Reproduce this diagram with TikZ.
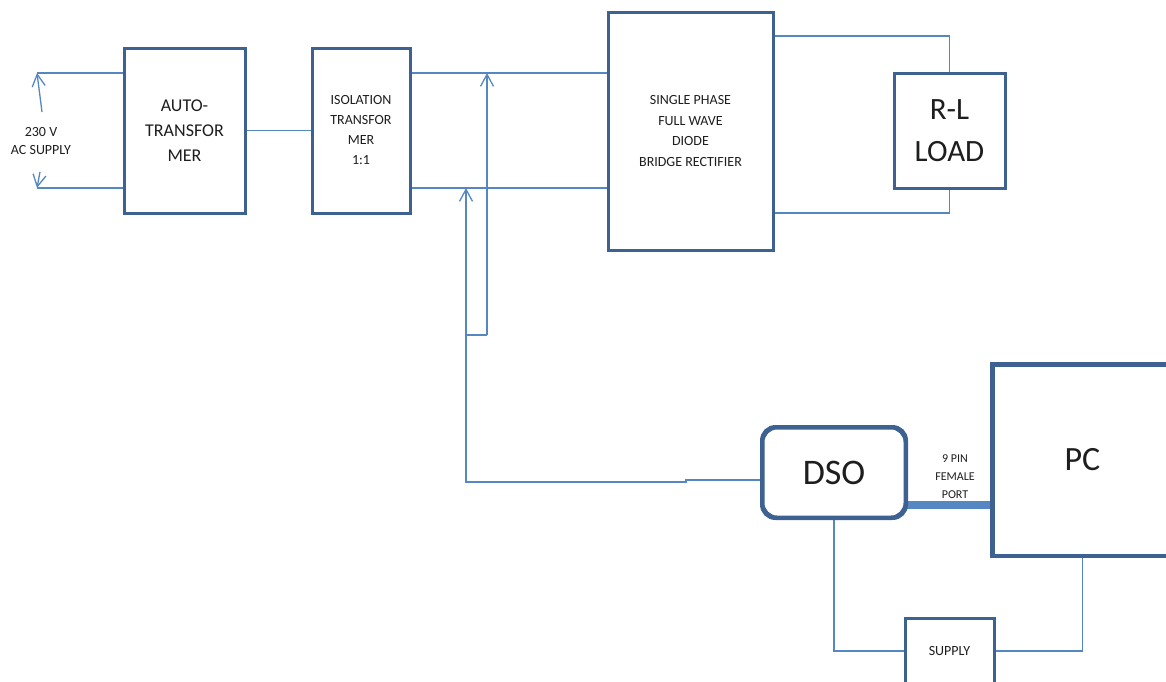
\documentclass[tikz,border=0pt]{standalone}
\usepackage{fontspec}
\setmainfont{Carlito}
\usetikzlibrary{arrows.meta}
\definecolor{boxc}{RGB}{61,98,145}
\definecolor{linec}{RGB}{85,135,195}
\definecolor{txtc}{RGB}{30,30,30}
\begin{document}
\begin{tikzpicture}[x=1pt,y=-1pt,
  blk/.style={draw=boxc, line width=3pt, fill=white, inner sep=0pt, align=center, text=txtc},
  wire/.style={draw=linec, line width=1.3pt},
  arr/.style={-{Straight Barb[length=12pt,width=13pt]}},
  lbl/.style={inner sep=0pt, align=center, text=txtc}]
\clip (0,0) rectangle (1166,681);
% blocks
\node[blk, minimum width=121pt, minimum height=165pt, font=\fontsize{18}{25}\selectfont] (auto) at (184.5,130.5) {AUTO-\\TRANSFOR\\MER};
\node[blk, minimum width=98pt, minimum height=165pt, font=\fontsize{14}{20}\selectfont] (iso) at (361,130.5) {ISOLATION\\TRANSFOR\\MER\\1:1};
\node[blk, minimum width=165pt, minimum height=238pt, font=\fontsize{14}{20.5}\selectfont] (rect) at (690.5,131) {SINGLE PHASE\\FULL WAVE\\DIODE\\BRIDGE RECTIFIER};
\node[blk, minimum width=111pt, minimum height=115pt, font=\fontsize{31}{42}\selectfont] (load) at (949.5,130.5) {R-L\\LOAD};
\node[blk, rounded corners=14pt, minimum width=142pt, minimum height=89pt, font=\fontsize{36}{40}\selectfont] (dso) at (834,472.5) {DSO};
\node[blk, minimum width=179pt, minimum height=190pt, font=\fontsize{34}{40}\selectfont] (pc) at (1082.5,460) {PC};
\node[blk, minimum width=89pt, minimum height=66pt, font=\fontsize{14}{18}\selectfont] (supply) at (949.5,651) {SUPPLY};
% labels
\node[lbl, font=\fontsize{14}{18}\selectfont] (ac) at (41,141) {230 V\\AC SUPPLY};
\node[lbl, font=\fontsize{12}{18}\selectfont] (port) at (955,477) {9 PIN\\FEMALE\\PORT};
% helper coordinates
\coordinate (yT) at (0,73);
\coordinate (yB) at (0,188);
\coordinate (yR1) at (0,36);
\coordinate (yR2) at (0,213);
\coordinate (yP) at (0,505);
\coordinate (yD) at (0,480);
\coordinate (acT) at (37,73);
\coordinate (acB) at (37,188);
\coordinate (acTt) at (42,112);
\coordinate (acBt) at (40,172);
\coordinate (m1) at (487,335);
\coordinate (m2) at (466,335);
\coordinate (k1) at (686,480);
\coordinate (k2) at (686,482);
\coordinate (k3) at (466,482);
% AC supply
\draw[wire] (auto.west |- yT) -- (acT);
\draw[wire] (auto.west |- yB) -- (acB);
\draw[wire,arr] (acTt) -- (acT);
\draw[wire,arr] (acBt) -- (acB);
% chain
\draw[wire] (auto.east) -- (iso.west);
\draw[wire] (iso.east |- yT) -- (rect.west |- yT);
\draw[wire] (iso.east |- yB) -- (rect.west |- yB);
\draw[wire] (rect.east |- yR1) -| (load.north);
\draw[wire] (rect.east |- yR2) -| (load.south);
% probes
\draw[wire] (m2) -- (m1);
\draw[wire,arr] (m1) -- (m1 |- yT);
\draw[wire,arr] (dso.west |- yD) -- (k1) -- (k2) -- (k3) -- (k3 |- yB);
% DSO - PC
\draw[draw=linec, line width=8pt] (dso.east |- yP) -- (pc.west |- yP);
\draw[wire] (dso.south) |- (supply.west);
\draw[wire] (supply.east) -| (pc.south);
% redraw borders over thick line
\draw[boxc, line width=3pt, rounded corners=14pt] (dso.south west) rectangle (dso.north east);
\draw[boxc, line width=3pt] (pc.south west) rectangle (pc.north east);
\end{tikzpicture}
\end{document}
